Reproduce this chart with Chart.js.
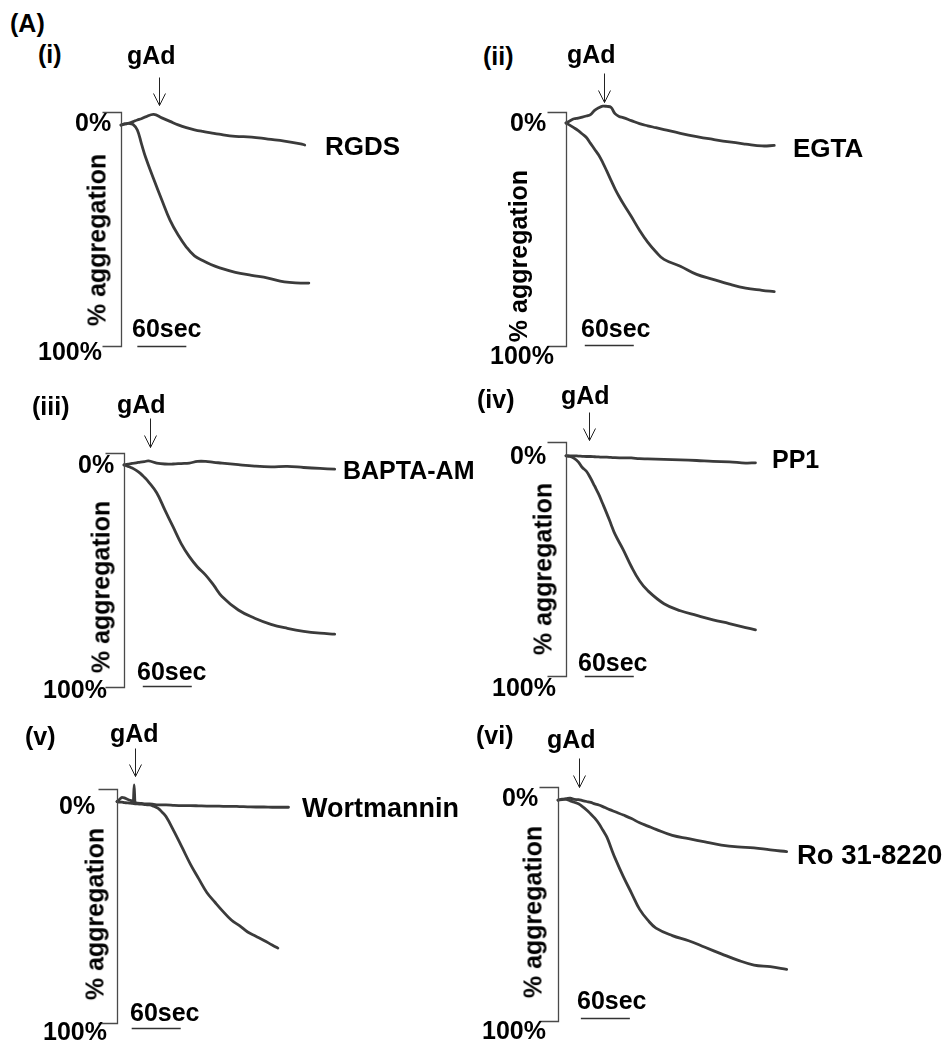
<!DOCTYPE html>
<html><head><meta charset="utf-8">
<script src="https://cdn.jsdelivr.net/npm/chart.js@4.4.0/dist/chart.umd.min.js"></script>
<style>
html,body{margin:0;padding:0;background:#fff;}
body{width:947px;height:1047px;position:relative;overflow:hidden;font-family:"Liberation Sans",Arial,sans-serif;font-weight:bold;color:#000;}
.t{position:absolute;white-space:nowrap;line-height:1;}
canvas{position:absolute;}
</style></head><body>
<script>
// ---------- text / categories ----------
const figureLabel = "(A)";
const panelLabels = ["(i)","(ii)","(iii)","(iv)","(v)","(vi)"];
const treatmentLabels = ["RGDS","EGTA","BAPTA-AM","PP1","Wortmannin","Ro 31-8220"];
const agonistLabel = "gAd";
const yTickLabels = ["0%","100%"];
const yAxisTitle = "% aggregation";
const scaleBarLabel = "60sec";
const scaleBarSeconds = 60;
const arrowTimes = [46.5, 46.5, 32, 28, 22, 26];      // s, gAd addition
const scaleBarStarts = [20, 23, 23, 23, 18, 28];       // s

// ---------- data: time (s) and % aggregation (0 top, 100 bottom) ----------
// (i) RGDS
const time_i = [0,5,10,15,20,25,30,40,50,60,70,80,90,100,110,120,140,160,180,200,220,225,230];
const gAd_i = [5.6,5.1,4.9,5.4,7.7,13.5,19.2,28.6,37.6,46.2,52.6,57.7,61.5,63.5,65.2,66.5,68.5,69.8,71.0,72.6,73.1,73.1,73.1];
const inhib_i = [5.6,5.1,4.7,4.1,3.4,2.9,2.1,1.0,2.5,4.0,5.5,6.7,7.6,8.3,8.9,9.5,10.4,10.7,11.6,12.4,13.6,14.1,null];
// (ii) EGTA
const time_ii = [0,5,10,15,20,25,30,35,40,45,50,55,60,65,70,80,90,100,110,120,140,160,180,200,220,240,255];
const gAd_ii = [4.7,5.7,6.8,8.0,9.4,10.9,13.4,15.9,18.4,21.6,25.3,29.1,32.8,36.1,39.1,44.7,50.5,55.6,59.7,63.0,65.9,69.4,71.5,73.6,75.3,76.2,76.8];
const inhib_ii = [4.7,3.7,2.9,2.6,2.2,1.7,1.1,-0.7,-1.8,-2.5,-2.4,-2.0,0.7,1.9,2.4,3.7,5.0,5.9,6.7,7.5,9.1,10.5,11.7,12.8,13.7,14.5,14.3];
// (iii) BAPTA-AM
const time_iii = [0,5,10,15,20,25,30,40,50,60,70,80,90,100,110,120,140,160,180,200,220,240,258];
const gAd_iii = [5.1,5.7,6.4,7.4,8.7,10.4,12.3,17.0,24.3,31.5,38.7,44.3,48.7,52.2,56.6,61.3,67.1,70.6,73.2,74.9,76.2,77.0,77.4];
const inhib_iii = [5.1,4.8,4.4,4.2,3.9,3.7,3.4,4.3,4.7,4.7,4.5,4.3,3.6,3.6,4.0,4.3,5.0,5.6,5.9,5.7,6.2,6.6,6.9];
// (iv) PP1
const time_iv = [0,5,10,15,20,25,30,35,40,45,50,55,60,70,80,90,100,120,140,160,180,200,220,232];
const gAd_iv = [5.9,6.2,7.0,8.5,10.9,12.5,15.4,18.8,22.3,26.4,30.6,35.0,39.4,46.0,53.2,59.3,63.5,69.1,72.1,74.1,76.0,77.6,79.3,80.3];
const inhib_iv = [5.9,5.9,5.9,6.0,6.1,6.2,6.2,6.3,6.4,6.5,6.5,6.6,6.7,6.8,6.8,7.1,7.2,7.4,7.6,7.9,8.3,8.5,9.0,8.9];
// (v) Wortmannin
const time_v = [0,3,6,9,12,15,18,20,21,22,25,30,35,40,45,50,55,60,70,80,90,100,110,120,130,140,150,160,170,180,190,197,210];
const gAd_v = [5.4,5.6,5.6,5.8,5.9,6.0,6.1,6.2,6.2,6.3,6.4,6.5,6.7,6.8,7.4,8.2,9.8,11.8,18.2,25.2,32.2,38.3,44.2,48.4,52.4,56.0,58.4,61.1,62.9,64.7,66.7,68.0,null];
const inhib_v = [5.4,4.5,3.6,3.8,4.3,4.7,5.1,5.3,-1.7,5.6,6.0,6.2,6.4,6.4,6.6,6.8,6.8,6.8,7.0,7.1,7.1,7.2,7.3,7.3,7.4,7.4,7.5,7.6,7.7,7.7,7.8,7.8,7.8];
// (vi) Ro 31-8220
const time_vi = [0,5,10,15,20,25,30,35,40,45,50,55,60,65,70,80,90,100,110,120,140,160,180,200,220,240,260,280];
const gAd_vi = [5.6,5.4,5.3,5.9,6.5,7.2,8.4,9.8,11.5,13.3,15.6,18.5,21.5,26.1,30.5,38.3,45.3,52.3,56.9,60.3,63.5,65.7,68.5,71.3,74.0,76.1,76.8,77.9];
const inhib_vi = [5.6,5.2,5.0,4.8,5.3,5.4,5.8,6.2,6.6,7.2,7.7,8.4,9.2,9.9,10.6,12.0,13.5,15.3,16.7,18.1,20.7,22.1,23.5,24.8,25.6,26.0,26.9,27.6];

const panelTimes = [time_i,time_ii,time_iii,time_iv,time_v,time_vi];
const panelGAd = [gAd_i,gAd_ii,gAd_iii,gAd_iv,gAd_v,gAd_vi];
const panelInhib = [inhib_i,inhib_ii,inhib_iii,inhib_iv,inhib_v,inhib_vi];

// ---------- layout (pixels) ----------
const T_MAX = 300, AREA_W = 245, AREA_H = 234;
const PAD = {l:30, t:45, r:10, b:14};
const layout = [
  {left:121, top:112, label:[38,63], gAd:[127,64], z:[75,131], h:[38,360], tr:[325,155,26], sec:[132,337], agg:[97,240], arrow:[-35,-7], sbDy:0},
  {left:566, top:112, label:[483,65], gAd:[567,63], z:[510,131], h:[490,364], tr:[793,157,26], sec:[581,337], agg:[518,256], arrow:[-39,-10], sbDy:-1},
  {left:124, top:453, label:[32,415], gAd:[117,413], z:[78,473], h:[43,698], tr:[343,479,25], sec:[137,680], agg:[101,587], arrow:[-35,-6], sbDy:-1},
  {left:566, top:442, label:[477,408], gAd:[561,404], z:[510,464], h:[492,696], tr:[772,468,25], sec:[578,671], agg:[543,569], arrow:[-30,-2], sbDy:0},
  {left:117, top:789, label:[25,745], gAd:[110,742], z:[59,814], h:[43,1040], tr:[302,818,27], sec:[130,1021], agg:[95,914], arrow:[-41,-13], sbDy:5},
  {left:558, top:787, label:[476,744], gAd:[547,748], z:[502,806], h:[482,1039], tr:[797,864,27.5], sec:[577,1009], agg:[533,912], arrow:[-29,0], sbDy:-3}
];
const FS = 25;
const TRACE_COLOR = '#3b3b3b';

// ---------- drawing helpers ----------
const decor = {
  id:'decor',
  afterDatasetsDraw(chart, args, o){
    const {ctx, scales:{x, y}} = chart;
    ctx.save();
    const x0 = Math.round(x.getPixelForValue(0)) + 0.5;
    const yT = Math.round(y.getPixelForValue(0)) + 0.5;
    const yB = Math.round(y.getPixelForValue(100)) + 0.5;
    ctx.strokeStyle = '#4a4a4a'; ctx.lineWidth = 1.3;
    ctx.beginPath(); ctx.moveTo(x0-19, yT); ctx.lineTo(x0, yT); ctx.lineTo(x0, yB); ctx.lineTo(x0-19, yB); ctx.stroke();
    const ax = Math.round(x.getPixelForValue(o.arrowT)) + 0.5;
    const a1 = yT + o.arrow[0], a2 = yT + o.arrow[1];
    ctx.strokeStyle = '#222'; ctx.lineWidth = 1;
    ctx.beginPath(); ctx.moveTo(ax, a1); ctx.lineTo(ax, a2);
    ctx.moveTo(ax-6, a2-12); ctx.lineTo(ax, a2); ctx.lineTo(ax+6, a2-12); ctx.stroke();
    const s1 = x.getPixelForValue(o.sbT), s2 = x.getPixelForValue(o.sbT + scaleBarSeconds);
    const sy = yB + o.sbDy;
    ctx.strokeStyle = '#333'; ctx.lineWidth = 1.3;
    ctx.beginPath(); ctx.moveTo(s1, sy); ctx.lineTo(s2, sy); ctx.stroke();
    ctx.restore();
  }
};

function addText(txt, left, baseline, fs){
  const d = document.createElement('div');
  d.className = 't'; d.textContent = txt;
  d.style.fontSize = fs + 'px';
  d.style.left = left + 'px';
  d.style.top = (baseline - 0.8465*fs) + 'px';
  document.body.appendChild(d);
}
function addRot(txt, cx, cy, fs){
  const d = document.createElement('div');
  d.className = 't'; d.textContent = txt;
  d.style.fontSize = fs + 'px';
  d.style.left = cx + 'px'; d.style.top = cy + 'px';
  d.style.transform = 'translate(-50%,-50%) rotate(-90deg)';
  document.body.appendChild(d);
}

function makePanel(i){
  const L = layout[i];
  const times = panelTimes[i];
  const cv = document.createElement('canvas');
  cv.width = PAD.l + AREA_W + PAD.r; cv.height = PAD.t + AREA_H + PAD.b;
  cv.style.left = (L.left - PAD.l) + 'px'; cv.style.top = (L.top - PAD.t) + 'px';
  document.body.appendChild(cv);
  const ds = (vals, spiky) => ({
    data: times.map((t,k) => ({x:t, y:vals[k]})),
    borderColor: TRACE_COLOR, borderWidth: 2.8, pointRadius: 0,
    cubicInterpolationMode: spiky ? 'monotone' : 'default', tension: 0.4,
    clip: false, spanGaps: false,
    borderCapStyle: 'round', borderJoinStyle: 'round'
  });
  new Chart(cv, {
    type: 'line',
    data: { datasets: [ ds(panelGAd[i], false), ds(panelInhib[i], i === 4) ] },
    options: {
      responsive: false, animation: false, devicePixelRatio: 1, events: [],
      layout: { padding: { left: PAD.l, right: PAD.r, top: PAD.t, bottom: PAD.b } },
      plugins: { legend: {display:false}, tooltip: {enabled:false},
        decor: { arrowT: arrowTimes[i], arrow: L.arrow, sbT: scaleBarStarts[i], sbDy: L.sbDy } },
      scales: {
        x: { type:'linear', min:0, max:T_MAX, display:false },
        y: { type:'linear', min:0, max:100, reverse:true, display:false }
      }
    },
    plugins: [decor]
  });
  addText(panelLabels[i], L.label[0], L.label[1], FS);
  addText(agonistLabel, L.gAd[0], L.gAd[1], FS);
  addText(yTickLabels[0], L.z[0], L.z[1], FS);
  addText(yTickLabels[1], L.h[0], L.h[1], FS);
  addText(treatmentLabels[i], L.tr[0], L.tr[1], L.tr[2]);
  addText(scaleBarLabel, L.sec[0], L.sec[1], FS);
  addRot(yAxisTitle, L.agg[0], L.agg[1], FS);
}

addText(figureLabel, 10, 32, FS);
for (let i = 0; i < 6; i++) makePanel(i);
</script>
</body></html>
